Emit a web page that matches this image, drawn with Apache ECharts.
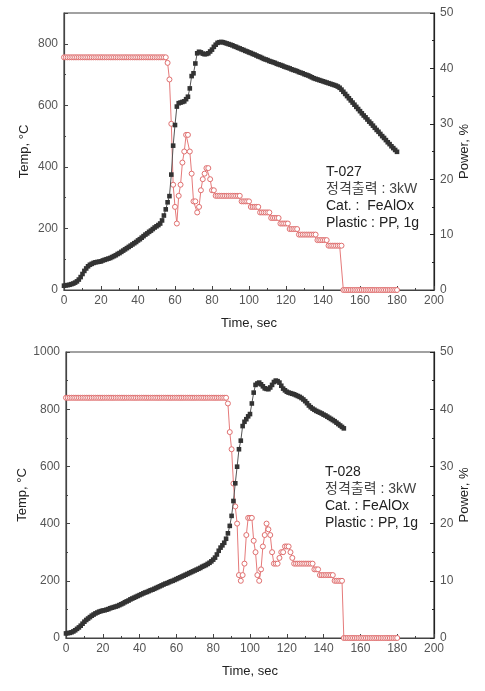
<!DOCTYPE html>
<html><head><meta charset="utf-8">
<script src="https://cdn.jsdelivr.net/npm/echarts@6/dist/echarts.min.js"></script>
<style>html,body{margin:0;padding:0;background:#fff}#c{width:485px;height:691px}</style>
</head><body><div id="c"></div>
<script>
// sampling step, seconds (one reading per second)
const dt = 1;

// T-027: temperature (degC), t = 0..180 s
const temp027 = [
14,15,16,17,19,21,24,28,34,42,
52,62,70,77,82,85,88,90,91,92,
93,96,98,100,102,104,107,110,113,117,
120,124,128,132,136,140,144,148,152,156,
161,165,170,175,180,184,189,193,198,203,
207,211,216,226,242,262,285,305,375,469,
536,596,607,609,611,613,620,628,655,695,
704,736,769,774,772,768,766,767,769,775,
781,790,797,803,805,806,805,803,801,799,
797,795,792,790,787,785,782,780,777,775,
772,770,767,765,762,759,757,754,751,749,
747,744,742,740,738,735,733,731,729,726,
724,722,720,717,715,713,711,708,706,704,
701,699,697,694,691,688,686,684,682,680,
678,676,674,672,670,668,666,664,661,657,
651,644,637,630,623,616,609,602,595,588,
581,574,567,561,554,547,541,534,527,520,
514,507,500,494,487,480,474,467,461,455,
449];

// T-027: power (%), t = 0..180 s
const power027 = [
42,42,42,42,42,42,42,42,42,42,
42,42,42,42,42,42,42,42,42,42,
42,42,42,42,42,42,42,42,42,42,
42,42,42,42,42,42,42,42,42,42,
42,42,42,42,42,42,42,42,42,42,
42,42,42,42,42,42,41,38,30,19,
15,12,17,19,23,25,28,28,25,21,
16,16,14,15,18,20,21,22,22,20,
18,18,17,17,17,17,17,17,17,17,
17,17,17,17,17,17,16,16,16,16,
16,15,15,15,15,15,14,14,14,14,
14,14,13,13,13,13,13,12,12,12,
12,12,11,11,11,11,11,10,10,10,
10,10,10,10,10,10,10,9,9,9,
9,9,9,8,8,8,8,8,8,8,
8,0,0,0,0,0,0,0,0,0,
0,0,0,0,0,0,0,0,0,0,
0,0,0,0,0,0,0,0,0,0,
0];

// T-028: temperature (degC), t = 0..151 s
const temp028 = [
16,17,18,20,23,27,32,37,43,50,
57,63,68,73,78,82,86,89,92,94,
96,97,99,101,104,106,108,110,112,115,
118,121,125,128,131,135,138,141,144,147,
150,153,156,159,161,164,167,169,172,175,
178,181,184,187,190,192,195,198,200,203,
206,209,212,215,218,221,224,227,230,233,
236,239,242,245,249,252,255,259,263,268,
274,281,292,305,316,324,333,347,366,392,
427,479,541,599,660,690,741,756,765,775,
783,820,858,885,890,893,887,880,873,871,
870,876,885,895,900,898,893,882,872,866,
861,858,856,854,852,849,846,843,839,834,
828,821,813,807,802,798,794,791,788,785,
781,778,774,770,766,762,758,753,748,743,
738,733];

// T-028: power (%), t = 0..180 s
const power028 = [
42,42,42,42,42,42,42,42,42,42,
42,42,42,42,42,42,42,42,42,42,
42,42,42,42,42,42,42,42,42,42,
42,42,42,42,42,42,42,42,42,42,
42,42,42,42,42,42,42,42,42,42,
42,42,42,42,42,42,42,42,42,42,
42,42,42,42,42,42,42,42,42,42,
42,42,42,42,42,42,42,42,42,42,
42,42,42,42,42,42,42,42,41,36,
33,27,23,20,11,10,11,13,18,21,
21,21,17,15,11,10,12,16,18,20,
19,18,15,13,13,13,14,15,15,16,
16,16,15,14,13,13,13,13,13,13,
13,13,13,13,13,12,12,12,11,11,
11,11,11,11,11,11,10,10,10,10,
10,0,0,0,0,0,0,0,0,0,
0,0,0,0,0,0,0,0,0,0,
0,0,0,0,0,0,0,0,0,0,
0];

const notes027 = ['T-027', '정격출력 : 3kW', 'Cat. :  FeAlOx', 'Plastic : PP, 1g'];
const notes028 = ['T-028', '정격출력 : 3kW', 'Cat. : FeAlOx', 'Plastic : PP, 1g'];

const FONT = "'Liberation Sans', Arial, 'Noto Sans CJK KR', sans-serif";
const toPairs = arr => arr.map((v, i) => [i * dt, v]);

function xAx(gi) {
  return {
    type: 'value', gridIndex: gi, min: 0, max: 200, interval: 20,
    name: 'Time, sec', nameLocation: 'middle', nameGap: 27,
    nameTextStyle: { color: '#222', fontSize: 13, fontFamily: FONT },
    axisLine: { onZero: false, lineStyle: { color: '#444', width: 1.2 } },
    axisTick: { inside: true, length: 4, lineStyle: { color: '#444' } },
    minorTick: { show: true, splitNumber: 2, length: 2, lineStyle: { color: '#444' } },
    axisLabel: { color: '#555', fontSize: 12, margin: 5, fontFamily: FONT },
    splitLine: { show: false }
  };
}
function yLeft(gi, max, gap) {
  return {
    type: 'value', gridIndex: gi, min: 0, max: max, interval: 200, position: 'left',
    name: 'Temp, °C', nameLocation: 'middle', nameGap: gap, nameMoveOverlap: false,
    nameTextStyle: { color: '#222', fontSize: 13, fontFamily: FONT },
    axisLine: { show: true, onZero: false, lineStyle: { color: '#444', width: 1.2 } },
    axisTick: { inside: true, length: 4, lineStyle: { color: '#444' } },
    minorTick: { show: true, splitNumber: 2, length: 2, lineStyle: { color: '#444' } },
    axisLabel: { color: '#555', fontSize: 12, margin: 6, showMaxLabel: max % 200 === 0,
      formatter: v => String(v), fontFamily: FONT },
    splitLine: { show: false }
  };
}
function yRight(gi) {
  return {
    type: 'value', gridIndex: gi, min: 0, max: 50, interval: 10, position: 'right',
    name: 'Power, %', nameLocation: 'middle', nameGap: 24, nameRotate: 90, nameMoveOverlap: false,
    nameTextStyle: { color: '#222', fontSize: 13, fontFamily: FONT },
    axisLine: { show: true, onZero: false, lineStyle: { color: '#222', width: 1.2 } },
    axisTick: { inside: true, length: 4, lineStyle: { color: '#222' } },
    minorTick: { show: true, splitNumber: 2, length: 2, lineStyle: { color: '#222' } },
    axisLabel: { color: '#555', fontSize: 12, margin: 6, fontFamily: FONT },
    splitLine: { show: false }
  };
}
function powerSeries(gi, yi, arr) {
  return {
    type: 'line', xAxisIndex: gi, yAxisIndex: yi, data: toPairs(arr),
    symbol: 'circle', symbolSize: 5, showAllSymbol: true,
    itemStyle: { color: '#fff', borderColor: '#e07070', borderWidth: 1 },
    lineStyle: { color: '#e57a7a', width: 1 }, z: 2
  };
}
function tempSeries(gi, yi, arr) {
  return {
    type: 'line', xAxisIndex: gi, yAxisIndex: yi, data: toPairs(arr),
    symbol: 'rect', symbolSize: 4.6, showAllSymbol: true,
    itemStyle: { color: '#333' },
    lineStyle: { color: '#555', width: 1 }, z: 3
  };
}
function notes(lines, left, top) {
  return lines.map((t, i) => ({
    type: 'text', left: left, top: top + i * 17,
    style: { text: t, fill: i === 1 ? '#444' : '#222', fontSize: 14, fontFamily: FONT }
  }));
}

const chart = echarts.init(document.getElementById('c'));
chart.setOption({
  animation: false,
  backgroundColor: '#fff',
  grid: [
    { left: 64, top: 13, width: 370, height: 277, show: true, borderColor: '#444', borderWidth: 1.2, backgroundColor: 'transparent' },
    { left: 66, top: 352, width: 368, height: 286, show: true, borderColor: '#444', borderWidth: 1.2, backgroundColor: 'transparent' }
  ],
  xAxis: [xAx(0), xAx(1)],
  yAxis: [yLeft(0, 900, 33), yRight(0), yLeft(1, 1000, 37), yRight(1)],
  series: [
    powerSeries(0, 1, power027), tempSeries(0, 0, temp027),
    powerSeries(1, 3, power028), tempSeries(1, 2, temp028)
  ],
  graphic: [].concat(notes(notes027, 326, 165), notes(notes028, 325, 465))
});
</script></body></html>
